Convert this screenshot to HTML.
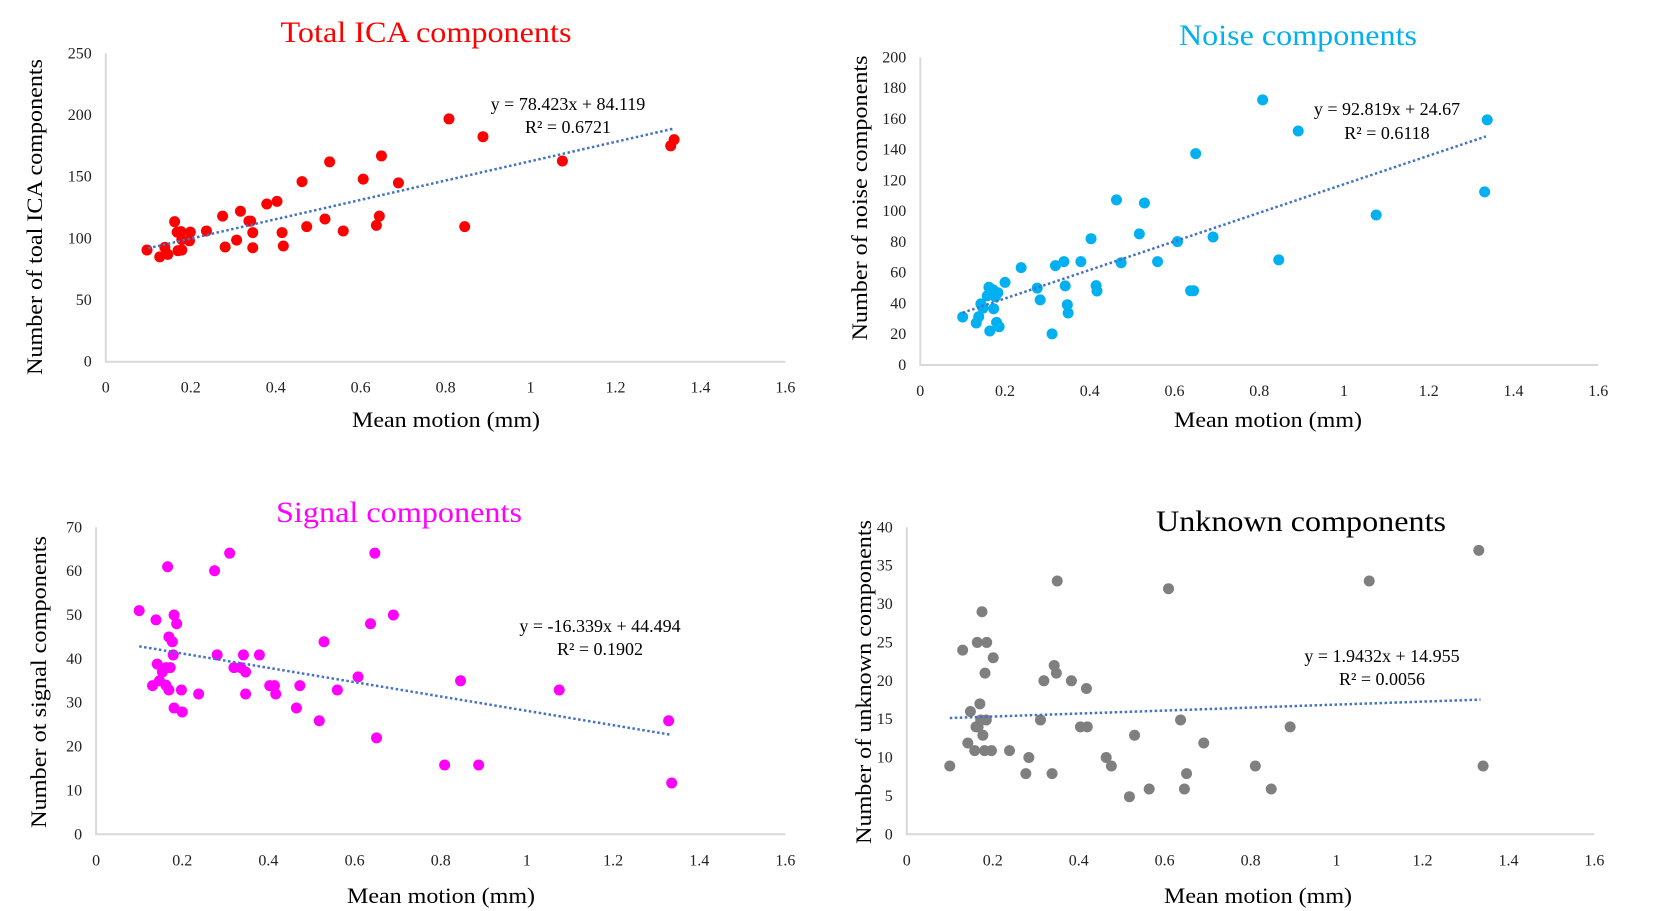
<!DOCTYPE html>
<html><head><meta charset="utf-8"><style>
html,body{margin:0;padding:0;background:#fff;}
svg{display:block;font-family:"Liberation Serif","Times New Roman",serif;}
</style></head><body>
<svg id="fig" width="1673" height="911" viewBox="0 0 1673 911" xmlns="http://www.w3.org/2000/svg"></svg>
<script>
// ---------- data ----------
const xTicks = [0,0.2,0.4,0.6,0.8,1,1.2,1.4,1.6];
const xTickLabels = ["0","0.2","0.4","0.6","0.8","1","1.2","1.4","1.6"];

const totalX = [.097,.127,.139,.146,.162,.168,.177,.170,.179,.179,.197,.199,.237,.275,.281,.308,.317,.337,.341,.346,.346,.379,.403,.415,.418,.462,.473,.516,.527,.559,.606,.637,.644,.649,.689,.808,.845,.888,1.075,1.33,1.338];
const totalY = [90.5,85,92.7,87,113.5,105,105.4,90,90.5,99,98,105,106,118,93,98.6,122,114,114,104.6,92.4,127.8,130,104.6,93.8,146,109.5,115.7,162,106,148,110.5,118,166.8,145,196.8,109.5,182.4,162.7,175,180];
const totalYTicks = [0,50,100,150,200,250];

const noiseX = [.1,.132,.138,.143,.148,.162,.158,.164,.172,.173,.177,.180,.183,.186,.2,.238,.276,.283,.311,.319,.339,.342,.347,.349,.379,.403,.415,.417,.463,.474,.517,.529,.560,.607,.638,.645,.65,.691,.808,.846,.892,1.076,1.332,1.338];
const noiseY = [31.2,27.3,31.4,39.7,37,50.5,44.9,22.1,48.8,36.6,44.4,27.7,47,24.9,53.7,63.3,50,42.3,20.2,64.6,67.2,51.4,39.2,33.8,67.2,82.1,51.6,48.1,107.3,66.5,85.2,105.3,67.2,80.2,48.3,48.3,137.4,83.2,172.3,68.3,152.1,97.5,112.5,159.3];
const noiseYTicks = [0,20,40,60,80,100,120,140,160,180,200];

const signalX = [.1,.131,.139,.142,.147,.154,.162,.163,.166,.169,.169,.172,.177,.179,.181,.181,.187,.198,.2,.238,.275,.281,.31,.32,.336,.342,.347,.347,.379,.403,.414,.417,.465,.473,.518,.529,.56,.608,.637,.647,.651,.69,.809,.846,.888,1.075,1.329,1.336];
const signalY = [51,33.9,48.9,38.8,35,37,34,38,61,32.9,45,38,43.9,40.9,50,28.8,48,32.9,27.9,32,60.1,40.9,64.1,38,38,40.9,37,32,40.9,33.9,33.9,32,28.8,33.9,25.9,43.9,32.9,35.9,48,64.1,22,50,15.8,35,15.8,32.9,25.9,11.7];
const signalYTicks = [0,10,20,30,40,50,60,70];

const unknownX = [.1,.13,.142,.148,.158,.161,.164,.166,.17,.172,.175,.177,.181,.182,.185,.186,.197,.201,.239,.277,.284,.311,.319,.338,.343,.348,.35,.383,.404,.418,.42,.464,.476,.518,.53,.564,.609,.637,.646,.651,.691,.811,.848,.892,1.076,1.331,1.341];
const unknownY = [8.9,24,11.9,16,10.9,14,25,14,17,14.9,29,12.9,10.9,21,14.9,25,10.9,23,10.9,7.9,10,14.9,20,7.9,22,21,33,20,14,19,14,10,8.9,4.9,12.9,5.9,32,14.9,5.9,7.9,11.9,8.9,5.9,14,33,37,8.9];
const unknownYTicks = [0,5,10,15,20,25,30,35,40];

const trendSlope = [78.423, 92.819, -16.339, 1.9432];
const trendIntercept = [84.119, 24.67, 44.494, 14.955];
const trendRange = [0.1, 1.335];
const eqText = ["y = 78.423x + 84.119","y = 92.819x + 24.67","y = -16.339x + 44.494","y = 1.9432x + 14.955"];
const r2Text = ["0.6721","0.6118","0.1902","0.0056"];

// ---------- layout ----------
const NS = "http://www.w3.org/2000/svg";
const svg = document.getElementById('fig');
function mk(tag, attrs, parent){
  const e = document.createElementNS(NS, tag);
  for (const k in attrs) e.setAttribute(k, attrs[k]);
  (parent||svg).appendChild(e);
  return e;
}
const charts = [
  {key:'total', xs:totalX, ys:totalY, yTicks:totalYTicks, yMax:250, x0:105.8, x1:785.4, yb:361.7, yt:53.3,
   color:'#ff0000', title:'Total ICA components', tColor:'#ff0000', tx:426, ty:42, tw:291,
   ytitle:'Number of toal ICA components', ytx:34, yty:217, ytw:316, xtx:446, xty:427,
   ex:568, ey:110, ry:133},
  {key:'noise', xs:noiseX, ys:noiseY, yTicks:noiseYTicks, yMax:200, x0:920.3, x1:1598.2, yb:365, yt:57.3,
   color:'#00b0f0', title:'Noise components', tColor:'#00b0f0', tx:1298, ty:45, tw:238,
   ytitle:'Number of noise components', ytx:859, yty:198, ytw:285, xtx:1268, xty:427,
   ex:1387, ey:115, ry:139},
  {key:'signal', xs:signalX, ys:signalY, yTicks:signalYTicks, yMax:70, x0:96.1, x1:785.4, yb:834.3, yt:527.3,
   color:'#ff00ff', title:'Signal components', tColor:'#ff00ff', tx:399, ty:522, tw:246,
   ytitle:'Number ot signal components', ytx:38, yty:682, ytw:292, xtx:441, xty:903,
   ex:600, ey:632, ry:655},
  {key:'unknown', xs:unknownX, ys:unknownY, yTicks:unknownYTicks, yMax:40, x0:906.8, x1:1594.4, yb:834.3, yt:527.3,
   color:'#7f7f7f', title:'Unknown components', tColor:'#000000', tx:1301, ty:531, tw:290,
   ytitle:'Number of unknown components', ytx:863, yty:682, ytw:324, xtx:1258, xty:903,
   ex:1382, ey:662, ry:685}
];

charts.forEach((c, ci) => {
  const g = mk('g', {});
  
  
  const sx = v => c.x0 + (v/1.6)*(c.x1 - c.x0);
  const sy = v => c.yb - (v/c.yMax)*(c.yb - c.yt);

  const t = mk('text', {x:c.tx, y:c.ty, 'text-anchor':'middle', 'font-size':30, fill:c.tColor, textLength:c.tw, lengthAdjust:'spacingAndGlyphs'}, g);
  t.textContent = c.title;
  
  

  const ax = mk('path', {d:`M${c.x0},${c.yt} L${c.x0},${c.yb} L${c.x1},${c.yb}`, fill:'none', stroke:'#d9d9d9', 'stroke-width':2}, g);
  
  

  c.yTicks.forEach(v => {
    const tl = mk('text', {x:c.x0-14, y:sy(v)+5, 'text-anchor':'end', 'font-size':16, fill:'#222'}, g);
    tl.textContent = String(v);
    
    
  });
  xTicks.forEach((v, i) => {
    const tl = mk('text', {x:sx(v), y:c.yb+31, 'text-anchor':'middle', 'font-size':16, fill:'#222'}, g);
    tl.textContent = xTickLabels[i];
    
    
  });

  const yt = mk('text', {x:0, y:0, transform:`translate(${c.ytx+8},${c.yty}) rotate(-90)`, 'text-anchor':'middle', 'font-size':22, fill:'#000', textLength:c.ytw, lengthAdjust:'spacingAndGlyphs'}, g);
  yt.textContent = c.ytitle;
  
  

  const xt = mk('text', {x:c.xtx, y:c.xty, 'text-anchor':'middle', 'font-size':22, fill:'#000', textLength:188, lengthAdjust:'spacingAndGlyphs'}, g);
  xt.textContent = 'Mean motion (mm)';
  
  

  c.xs.forEach((xv, i) => {
    const d = mk('circle', {cx:sx(xv), cy:sy(c.ys[i]), r:5.5, fill:c.color}, g);
    
    
  });

  const xa = trendRange[0], xb = trendRange[1];
  const ln = mk('line', {x1:sx(xa), y1:sy(trendSlope[ci]*xa + trendIntercept[ci]), x2:sx(xb), y2:sy(trendSlope[ci]*xb + trendIntercept[ci]),
    stroke:'#4472c4', 'stroke-width':2.5, 'stroke-dasharray':'2.5 2.5'}, g);
  
  

  const eq = mk('text', {x:c.ex, y:c.ey, 'text-anchor':'middle', 'font-size':18, fill:'#000'}, g);
  eq.textContent = eqText[ci];
  
  
  const r2 = mk('text', {x:c.ex, y:c.ry, 'text-anchor':'middle', 'font-size':18, fill:'#000'}, g);
  r2.textContent = 'R² = ' + r2Text[ci];
  
  
});
</script>
</body></html>
